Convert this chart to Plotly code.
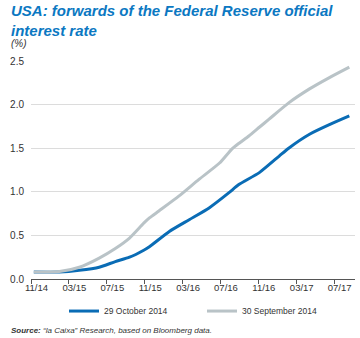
import plotly.graph_objects as go

# months since 1 Nov 2014
grey_x = [0.3, 3.0, 5.1, 7.2, 8.9, 10.4, 11.9, 12.5, 13.5, 15.6, 17.7, 19.9, 21.2, 22.0, 23.0, 24.1, 25.1, 27.2, 29.4, 31.5, 33.6]
grey_y = [0.08, 0.085, 0.135, 0.24, 0.35, 0.47, 0.64, 0.70, 0.78, 0.95, 1.14, 1.33, 1.49, 1.56, 1.64, 1.74, 1.83, 2.02, 2.18, 2.31, 2.43]
blue_x = [0.3, 3.0, 5.1, 7.2, 8.9, 10.4, 11.9, 12.5, 14.6, 16.7, 18.8, 20.9, 21.9, 24.1, 26.2, 27.2, 29.4, 31.5, 33.6]
blue_y = [0.08, 0.08, 0.10, 0.135, 0.20, 0.25, 0.33, 0.37, 0.545, 0.68, 0.815, 0.99, 1.08, 1.22, 1.41, 1.50, 1.66, 1.77, 1.87]

series_names = ["29 October 2014", "30 September 2014"]
tick_months = [0, 4, 8, 12, 16, 20, 24, 28, 32]
tick_labels = ["11/14", "03/15", "07/15", "11/15", "03/16", "07/16", "11/16", "03/17", "07/17"]
y_ticks = [0.0, 0.5, 1.0, 1.5, 2.0, 2.5]

FONT = "Liberation Sans Narrow, Arial Narrow, Liberation Sans, sans-serif"
BLUE = "#0a6cb5"
GREY = "#b9c3c7"
TXT = "#333333"

fig = go.Figure()
fig.add_trace(go.Scatter(x=blue_x, y=blue_y, mode="lines", name=series_names[0], showlegend=False,
                         line=dict(color=BLUE, width=3, shape="spline", smoothing=0.6)))
fig.add_trace(go.Scatter(x=grey_x, y=grey_y, mode="lines", name=series_names[1], showlegend=False,
                         line=dict(color=GREY, width=3, shape="spline", smoothing=0.6)))

fig.update_layout(
    width=360, height=338,
    margin=dict(l=31, r=5, t=61, b=59),
    paper_bgcolor="white", plot_bgcolor="white",
    font=dict(family=FONT, size=10, color=TXT),
    showlegend=False,
    xaxis=dict(range=[0, 34.2], showgrid=False, zeroline=False,
               showline=True, linecolor="#555555", linewidth=1,
               tickmode="array", tickvals=[m + 0.58 for m in tick_months], ticktext=tick_labels,
               ticks="", tickfont=dict(size=9.5, color=TXT),
               minor=dict(tickmode="array", tickvals=tick_months, ticks="outside",
                          ticklen=4, tickcolor="#555555", showgrid=False)),
    yaxis=dict(range=[0, 2.5], tickvals=y_ticks, tickformat=".1f",
               showgrid=True, gridcolor="#dcdcdc", gridwidth=1, zeroline=False,
               showline=False, ticks="", ticklabelstandoff=6,
               tickfont=dict(size=10, color=TXT)),
)

# manual legend (paper coords)
legend_items = [(series_names[0], BLUE, 0.1173), (series_names[1], GREY, 0.5432)]
for name, color, x0 in legend_items:
    fig.add_shape(type="line", xref="paper", yref="paper", x0=x0, x1=x0 + 0.0926,
                  y0=-0.147, y1=-0.147, line=dict(color=color, width=3))
    fig.add_annotation(xref="paper", yref="paper", x=x0 + 0.0926, xshift=3, y=-0.147,
                       xanchor="left", yanchor="middle", showarrow=False,
                       text=name, font=dict(family=FONT, size=8.5, color=TXT))

fig.add_annotation(xref="paper", yref="paper", x=0, y=1, xshift=-22, yshift=61,
                   xanchor="left", yanchor="top", align="left", showarrow=False,
                   text="<b><i>USA: forwards of the Federal Reserve official<br>interest rate</i></b>",
                   font=dict(family=FONT, size=15, color="#0b78c2"))
fig.add_annotation(xref="paper", yref="paper", x=0, y=1, xshift=-22, yshift=18,
                   xanchor="left", yanchor="middle", showarrow=False,
                   text="<i>(%)</i>", font=dict(family=FONT, size=10, color=TXT))
fig.add_annotation(xref="paper", yref="paper", x=0, y=0, xshift=-22, yshift=-51,
                   xanchor="left", yanchor="middle", showarrow=False,
                   text="<b><i>Source:</i></b><i> “la Caixa” Research, based on Bloomberg data.</i>",
                   font=dict(family=FONT, size=8, color=TXT))

fig.write_html("out.html")
